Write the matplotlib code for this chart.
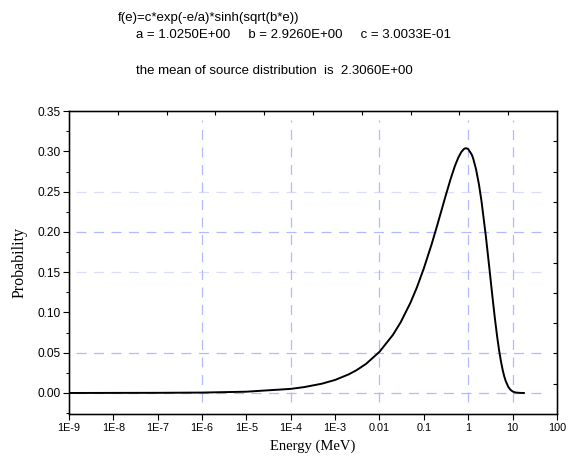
import numpy as np
import matplotlib
matplotlib.use("Agg")
import matplotlib.pyplot as plt

# values (energy in MeV, probability)
energy = [1e-9, 1e-8, 1e-7, 1e-6, 1e-5, 1e-4, 2e-4, 5e-4, 1e-3, 2e-3, 3e-3,
          5e-3, 0.01, 0.02, 0.03, 0.05, 0.07, 0.1, 0.15, 0.2, 0.25, 0.3, 0.4,
          0.5, 0.6, 0.7, 0.8, 0.85, 0.9, 1.0, 1.2, 1.3, 1.5, 1.75, 2.0, 2.5,
          3.0, 3.5, 4.0, 4.5, 5.0, 5.5, 6.0, 6.5, 7.0, 8.0, 9.0, 10.0, 11.0,
          12.0, 15.0, 18.0]
prob = [0.0000, 0.0001, 0.0002, 0.0005, 0.0016, 0.0051, 0.0073, 0.0115, 0.0162,
        0.0230, 0.0281, 0.0362, 0.0511, 0.0720, 0.0877, 0.1121, 0.1313, 0.1547,
        0.1847, 0.2080, 0.2267, 0.2421, 0.2654, 0.2816, 0.2924, 0.2992, 0.3029,
        0.3037, 0.3039, 0.3029, 0.2962, 0.2910, 0.2781, 0.2589, 0.2379, 0.1950,
        0.1553, 0.1210, 0.0926, 0.0700, 0.0523, 0.0388, 0.0285, 0.0207, 0.0150,
        0.0077, 0.0039, 0.0020, 0.0010, 0.0005, 0.0001, 0.0000]

xtick_vals = [1e-9, 1e-8, 1e-7, 1e-6, 1e-5, 1e-4, 1e-3, 1e-2, 1e-1, 1, 10, 100]
xtick_labels = ["1E-9", "1E-8", "1E-7", "1E-6", "1E-5", "1E-4", "1E-3",
                "0.01", "0.1", "1", "10", "100"]
ytick_vals = [0.00, 0.05, 0.10, 0.15, 0.20, 0.25, 0.30, 0.35]

title1 = "f(e)=c*exp(-e/a)*sinh(sqrt(b*e))"
title2 = "a = 1.0250E+00     b = 2.9260E+00     c = 3.0033E-01"
title3 = "the mean of source distribution  is  2.3060E+00"

sans = "Liberation Sans"
serif = "Liberation Serif"

fig = plt.figure(figsize=(5.7, 4.63), dpi=100)
ax = fig.add_axes([0.121, 0.106, 0.856, 0.654])

grid_col = "#b4b8ff"
faint_col = "#dadcff"
for yv, c in [(0.25, faint_col), (0.20, grid_col), (0.15, faint_col),
              (0.05, grid_col), (0.0, grid_col)]:
    ax.axhline(yv, xmin=0.015, xmax=0.97, color=c, lw=0.9,
               dashes=(8, 6), zorder=1)
for xv in [1e-6, 1e-4, 1e-2, 1, 10]:
    ax.axvline(xv, ymin=0.04, ymax=0.97, color=grid_col, lw=0.9,
               dashes=(8, 6), zorder=1)

ax.plot(energy, prob, color="black", lw=1.4, zorder=3)

ax.set_xscale("log")
ax.set_xlim(1e-9, 100)
ax.set_ylim(-0.026, 0.35)
ax.set_xticks(xtick_vals)
ax.set_xticklabels(xtick_labels, fontfamily=sans, fontsize=7.8)
ax.xaxis.set_minor_locator(matplotlib.ticker.LogLocator(base=10, subs=np.arange(2, 10)))
ax.xaxis.set_minor_formatter(matplotlib.ticker.NullFormatter())
ax.set_yticks(ytick_vals)
ax.set_yticklabels(["%.2f" % v for v in ytick_vals], fontfamily=sans, fontsize=8.6)
ax.yaxis.set_minor_locator(matplotlib.ticker.MultipleLocator(0.025))
ax.tick_params(which="major", direction="out", length=4.3, width=0.8, pad=2)
ax.tick_params(which="minor", direction="out", length=2.5, width=0.7)
for s in ax.spines.values():
    s.set_linewidth(1.0)

ax.set_xlabel("Energy (MeV)", fontfamily=serif, fontsize=10.5, labelpad=5)
ax.set_ylabel("Probability", fontfamily=serif, fontsize=11.5, labelpad=7)

# inward ticks on top and right edges
top = ax.twiny()
top.set_xlim(0, 10)
top.set_xticks(range(1, 10))
top.set_xticklabels([])
top.tick_params(direction="in", length=3, width=0.8)
right = ax.twinx()
right.set_ylim(0, 10)
right.set_yticks(range(1, 10))
right.set_yticklabels([])
right.tick_params(direction="in", length=3, width=0.8)

fig.text(0.207, 0.962, title1, fontfamily=sans, fontsize=9.5, va="center")
fig.text(0.238, 0.924, title2, fontfamily=sans, fontsize=9.5, va="center")
fig.text(0.238, 0.847, title3, fontfamily=sans, fontsize=9.5, va="center")

fig.savefig("out.png", dpi=100)
